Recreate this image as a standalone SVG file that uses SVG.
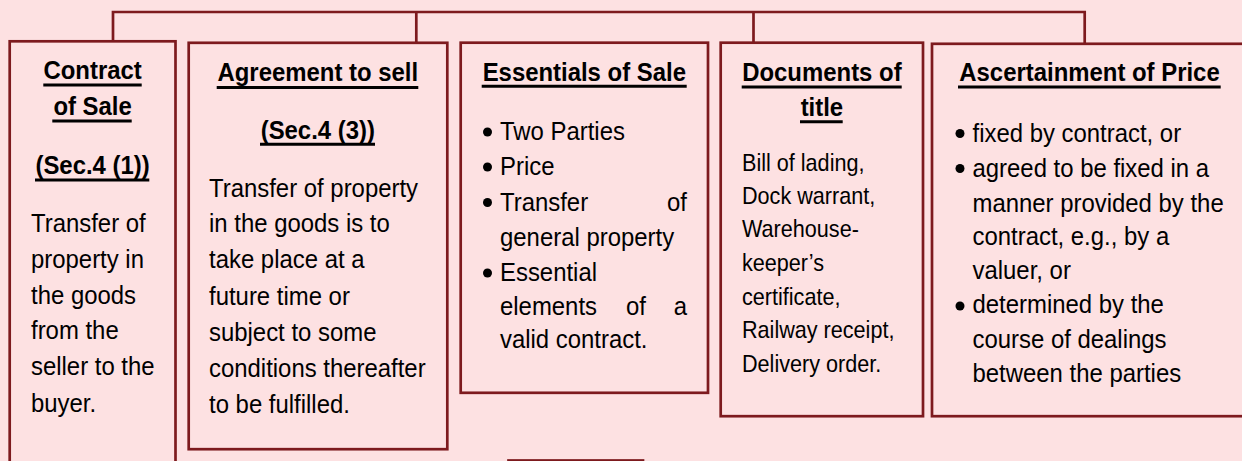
<svg xmlns="http://www.w3.org/2000/svg" width="1242" height="461" viewBox="0 0 1242 461">
<style>
.bg{fill:#fde1e2}
.box{fill:#fde1e2;stroke:#7d1a1e;stroke-width:2.7}
.con{fill:none;stroke:#7d1a1e;stroke-width:2.7}
.ul{stroke:#000;stroke-width:3}
text{font-family:"Liberation Sans",Arial,sans-serif;fill:#000}
.h{font-size:26px;font-weight:bold;text-anchor:middle}
.b{font-size:26px}
.s{font-size:24px}
.e{text-anchor:end}
.dot{fill:#000}
</style>
<rect class="bg" x="0" y="0" width="1242" height="461"/>
<g id="connectors">
<path class="con" d="M113 42 V12 H1084.7 V44 M416.3 12 V43 M753.5 12 V43"/>
</g>
<g id="contract-of-sale">
<rect class="box" x="9.7" y="41.3" width="165.8" height="440"/>
<text class="h" transform="translate(92.6 79) scale(0.92 1)">Contract</text>
<text class="h" transform="translate(92.6 115) scale(0.92 1)">of Sale</text>
<text class="h" transform="translate(92.6 173.5) scale(0.92 1)">(Sec.4 (1))</text>
<path class="ul" d="M43.3 85 H141.7 M52.3 121 H131.7 M35 180 H149.3"/>
<text class="b" transform="translate(31 232.3) scale(0.92 1)">Transfer of</text>
<text class="b" transform="translate(31 268.3) scale(0.92 1)">property in</text>
<text class="b" transform="translate(31 303.5) scale(0.92 1)">the goods</text>
<text class="b" transform="translate(31 339.3) scale(0.92 1)">from the</text>
<text class="b" transform="translate(31 375) scale(0.92 1)">seller to the</text>
<text class="b" transform="translate(31 411.7) scale(0.92 1)">buyer.</text>
</g>
<g id="agreement-to-sell">
<rect class="box" x="188.7" y="42.8" width="258.6" height="406.4"/>
<text class="h" transform="translate(317.8 80.5) scale(0.92 1)">Agreement to sell</text>
<text class="h" transform="translate(317.8 138.5) scale(0.92 1)">(Sec.4 (3))</text>
<path class="ul" d="M216.7 87.5 H418.3 M260 144.2 H375"/>
<text class="b" transform="translate(209 196.7) scale(0.92 1)">Transfer of property</text>
<text class="b" transform="translate(209 232.3) scale(0.92 1)">in the goods is to</text>
<text class="b" transform="translate(209 268.3) scale(0.92 1)">take place at a</text>
<text class="b" transform="translate(209 305) scale(0.92 1)">future time or</text>
<text class="b" transform="translate(209 340.7) scale(0.92 1)">subject to some</text>
<text class="b" transform="translate(209 376.7) scale(0.92 1)">conditions thereafter</text>
<text class="b" transform="translate(209 412.7) scale(0.92 1)">to be fulfilled.</text>
</g>
<g id="essentials-of-sale">
<rect class="box" x="460.7" y="42.7" width="247.3" height="350.1"/>
<text class="h" transform="translate(584.3 80.5) scale(0.92 1)">Essentials of Sale</text>
<path class="ul" d="M481.7 86.2 H686.7"/>
<circle class="dot" cx="487.5" cy="132" r="4.5"/>
<circle class="dot" cx="487.5" cy="167" r="4.5"/>
<circle class="dot" cx="487.5" cy="202.5" r="4.5"/>
<circle class="dot" cx="487.5" cy="273" r="4.5"/>
<text class="b" transform="translate(500 140) scale(0.92 1)">Two Parties</text>
<text class="b" transform="translate(500 175) scale(0.92 1)">Price</text>
<text class="b" transform="translate(500 210.7) scale(0.92 1)">Transfer</text>
<text class="b e" transform="translate(687 210.7) scale(0.92 1)">of</text>
<text class="b" transform="translate(500 246) scale(0.92 1)">general property</text>
<text class="b" transform="translate(500 280.7) scale(0.92 1)">Essential</text>
<text class="b" transform="translate(500 314.5) scale(0.92 1)">elements</text>
<text class="b" transform="translate(626 314.5) scale(0.92 1)">of</text>
<text class="b e" transform="translate(687 314.5) scale(0.92 1)">a</text>
<text class="b" transform="translate(500 348.3) scale(0.92 1)">valid contract.</text>
</g>
<g id="documents-of-title">
<rect class="box" x="720.7" y="42.7" width="202.3" height="373.5"/>
<text class="h" transform="translate(821.9 80.5) scale(0.92 1)">Documents of</text>
<text class="h" transform="translate(821.9 116) scale(0.92 1)">title</text>
<path class="ul" d="M741.7 87 H901.7 M800 121.7 H842.7"/>
<text class="s" transform="translate(742 170.7) scale(0.9 1)">Bill of lading,</text>
<text class="s" transform="translate(742 204) scale(0.9 1)">Dock warrant,</text>
<text class="s" transform="translate(742 237.3) scale(0.9 1)">Warehouse-</text>
<text class="s" transform="translate(742 270.7) scale(0.9 1)">keeper’s</text>
<text class="s" transform="translate(742 305) scale(0.9 1)">certificate,</text>
<text class="s" transform="translate(742 338.3) scale(0.9 1)">Railway receipt,</text>
<text class="s" transform="translate(742 372.3) scale(0.9 1)">Delivery order.</text>
</g>
<g id="ascertainment-of-price">
<rect class="box" x="932" y="43.8" width="340" height="372.4"/>
<text class="h" transform="translate(1089.5 81) scale(0.92 1)">Ascertainment of Price</text>
<path class="ul" d="M958 87 H1220.7"/>
<circle class="dot" cx="960" cy="133.5" r="4.5"/>
<circle class="dot" cx="960" cy="168.5" r="4.5"/>
<circle class="dot" cx="960" cy="306" r="4.5"/>
<text class="b" transform="translate(972.5 141.5) scale(0.92 1)">fixed by contract, or</text>
<text class="b" transform="translate(972.5 176.5) scale(0.92 1)">agreed to be fixed in a</text>
<text class="b" transform="translate(972.5 211.5) scale(0.92 1)">manner provided by the</text>
<text class="b" transform="translate(972.5 245) scale(0.92 1)">contract, e.g., by a</text>
<text class="b" transform="translate(972.5 279.3) scale(0.92 1)">valuer, or</text>
<text class="b" transform="translate(972.5 313.3) scale(0.92 1)">determined by the</text>
<text class="b" transform="translate(972.5 347.7) scale(0.92 1)">course of dealings</text>
<text class="b" transform="translate(972.5 381.7) scale(0.92 1)">between the parties</text>
</g>
<g id="lower-box">
<rect class="box" x="508.5" y="460.5" width="134.5" height="60"/>
</g>
</svg>
